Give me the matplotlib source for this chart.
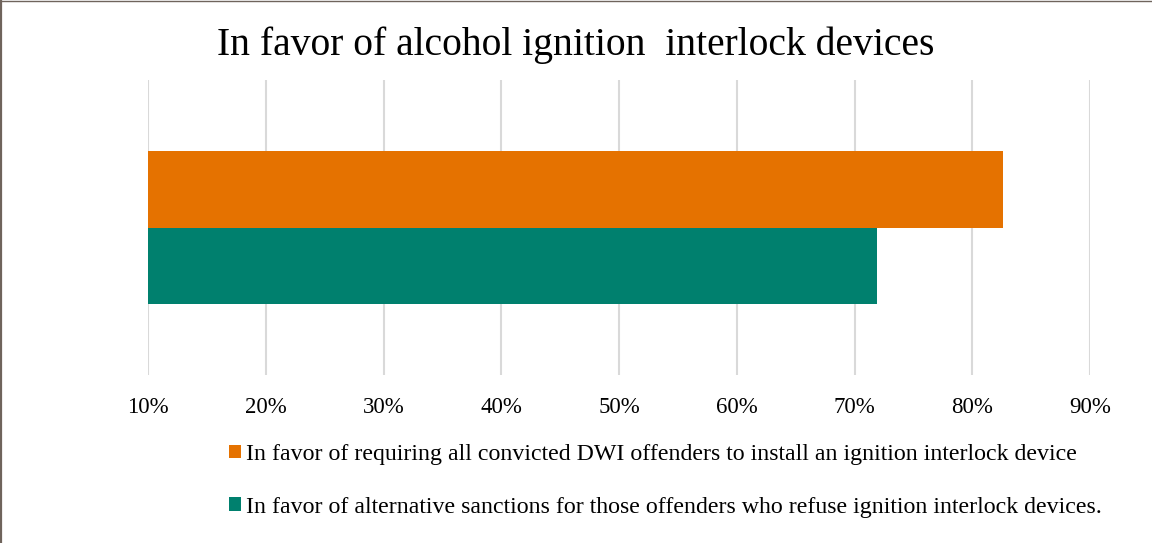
import matplotlib
matplotlib.use("Agg")
import matplotlib.pyplot as plt
from matplotlib.lines import Line2D
from matplotlib.patches import Patch

title = "In favor of alcohol ignition  interlock devices"
series_labels = [
    "In favor of requiring all convicted DWI offenders to install an ignition interlock device",
    "In favor of alternative sanctions for those offenders who refuse ignition interlock devices.",
]
series_values = [82.6, 71.9]
series_colors = ["#E57200", "#00806E"]
xticks = [10, 20, 30, 40, 50, 60, 70, 80, 90]
xtick_labels = [f"{t}%" for t in xticks]

plt.rcParams['font.family'] = ['Liberation Serif', 'DejaVu Serif']

W, H = 1152, 543
fig = plt.figure(figsize=(W / 100, H / 100), dpi=100)
ax = fig.add_axes([148 / W, 1 - 375 / H, (1090 - 148) / W, (375 - 80) / H])

ypos = [0.5, -0.5]
for y, v, c in zip(ypos, series_values, series_colors):
    ax.barh(y, v - 10, left=10, height=1.0, color=c, zorder=3)

ax.set_xlim(10, 90)
ax.set_ylim(-1.916, 1.916)
ax.set_xticks(xticks)
ax.set_xticklabels(xtick_labels, fontsize=16.5)
ax.tick_params(axis='x', length=0, pad=16)
ax.set_yticks([])
for s in ax.spines.values():
    s.set_visible(False)
ax.grid(axis='x', color='#d9d9d9', linewidth=1.5, zorder=0)

fig.text(0.5, 1 - 55 / H, title, ha='center', va='baseline', fontsize=28.5)

handles = [Patch(facecolor=c, edgecolor='none') for c in series_colors]
fig.legend(handles, series_labels, loc='upper left',
           bbox_to_anchor=(229 / W, 1 - 444 / H), frameon=False,
           fontsize=17.2, handlelength=0.5, handleheight=0.5,
           handletextpad=0.22, labelspacing=1.33, borderpad=0, borderaxespad=0)

border = '#6f645c'
fig.add_artist(Line2D([1 / W, 1 / W], [0, 1], color=border, linewidth=1.6, transform=fig.transFigure))
fig.add_artist(Line2D([0, 1], [1 - 0.5 / H, 1 - 0.5 / H], color=border, linewidth=1.0, transform=fig.transFigure))

fig.savefig("out.png", dpi=100)
